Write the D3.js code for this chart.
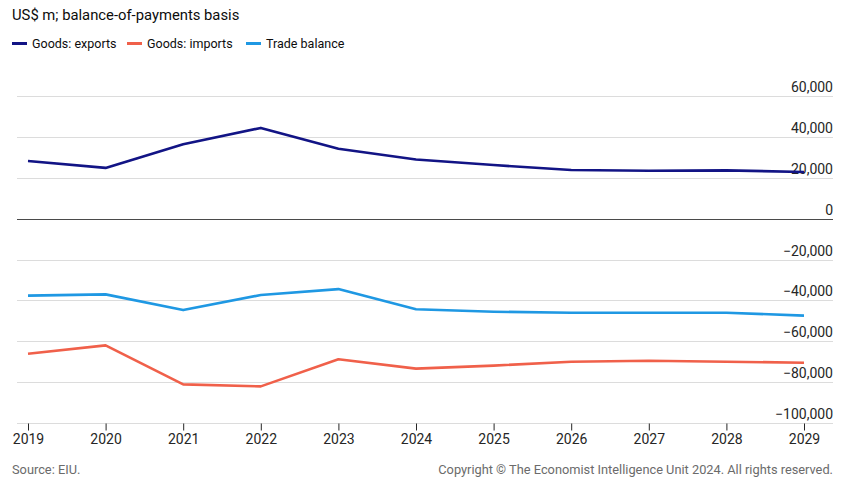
<!DOCTYPE html>
<html><head><meta charset="utf-8">
<script src="https://cdn.jsdelivr.net/npm/d3@7"></script>
<style>
body{margin:0;background:#fff;}
text{font-family:Roboto,"Noto Sans",sans-serif;}
</style></head>
<body>
<svg id="c" width="850" height="483"></svg>
<script>
const years = [2019,2020,2021,2022,2023,2024,2025,2026,2027,2028,2029];
const exportsVals = [28300,24900,36500,44500,34300,29000,26300,23900,23500,23700,22900];
const importsVals = [-66200,-62100,-81200,-82200,-68900,-73500,-72000,-70100,-69600,-70100,-70600];
const balanceVals = [-37700,-37100,-44800,-37400,-34500,-44400,-45600,-46100,-46100,-46100,-47500];
const yTicks = [-100000,-80000,-60000,-40000,-20000,0,20000,40000,60000];
const seriesNames = ["Goods: exports","Goods: imports","Trade balance"];
const seriesColors = ["#121485","#f0604a","#1f98e3"];

const svg = d3.select("#c");
const x = d3.scalePoint().domain(years).range([28,804]);
const y = d3.scaleLinear().domain([-100000,60000]).range([422.7,96.3]);
const fmt = v => (v<0?"\u2212":"") + d3.format(",")(Math.abs(v));

// gridlines + labels
const g = svg.append("g");
yTicks.forEach(t=>{
  g.append("line").attr("x1",17).attr("x2",833)
   .attr("y1",Math.round(y(t))+0.5).attr("y2",Math.round(y(t))+0.5)
   .attr("stroke", t===0 ? "#4a4a4a" : "#dcdcdc").attr("stroke-width",1);
  g.append("text").attr("x",833).attr("y",Math.round(y(t))-4)
   .attr("text-anchor","end").attr("font-size",14).attr("fill","#262626").text(fmt(t));
});

// x axis ticks
const xa = svg.append("g").attr("transform",`translate(0,${Math.round(y(-100000))+0.5})`)
  .call(d3.axisBottom(x).tickSize(7).tickPadding(4).tickFormat(d3.format("d")));
xa.select(".domain").remove();
xa.selectAll(".tick line").attr("stroke","#262626");
xa.selectAll(".tick text").attr("font-size",14).attr("fill","#262626").attr("font-family","Roboto");

// lines
const line = d3.line().x((d,i)=>x(years[i])).y(d=>y(d));
[exportsVals, importsVals, balanceVals].forEach((vals,k)=>{
  svg.append("path").datum(vals).attr("d",line).attr("fill","none")
    .attr("stroke",seriesColors[k]).attr("stroke-width",2.6)
    .attr("stroke-linejoin","round");
});

// title
svg.append("text").attr("x",12).attr("y",20).attr("font-size",14.8).attr("fill","#0d0d0d")
  .text("US$ m; balance-of-payments basis");

// legend
const legX = [12,127,246];
seriesNames.forEach((n,k)=>{
  svg.append("line").attr("x1",legX[k]).attr("x2",legX[k]+15).attr("y1",43.5).attr("y2",43.5)
    .attr("stroke",seriesColors[k]).attr("stroke-width",3);
  svg.append("text").attr("x",legX[k]+20).attr("y",48).attr("font-size",12.5).attr("fill","#0d0d0d").text(n);
});

// footer
svg.append("text").attr("x",12).attr("y",474).attr("font-size",12.8).attr("fill","#6b6b6b").text("Source: EIU.");
svg.append("text").attr("x",833).attr("y",474).attr("text-anchor","end").attr("font-size",12.8).attr("fill","#6b6b6b")
  .text("Copyright \u00a9 The Economist Intelligence Unit 2024. All rights reserved.");
</script>
</body></html>
